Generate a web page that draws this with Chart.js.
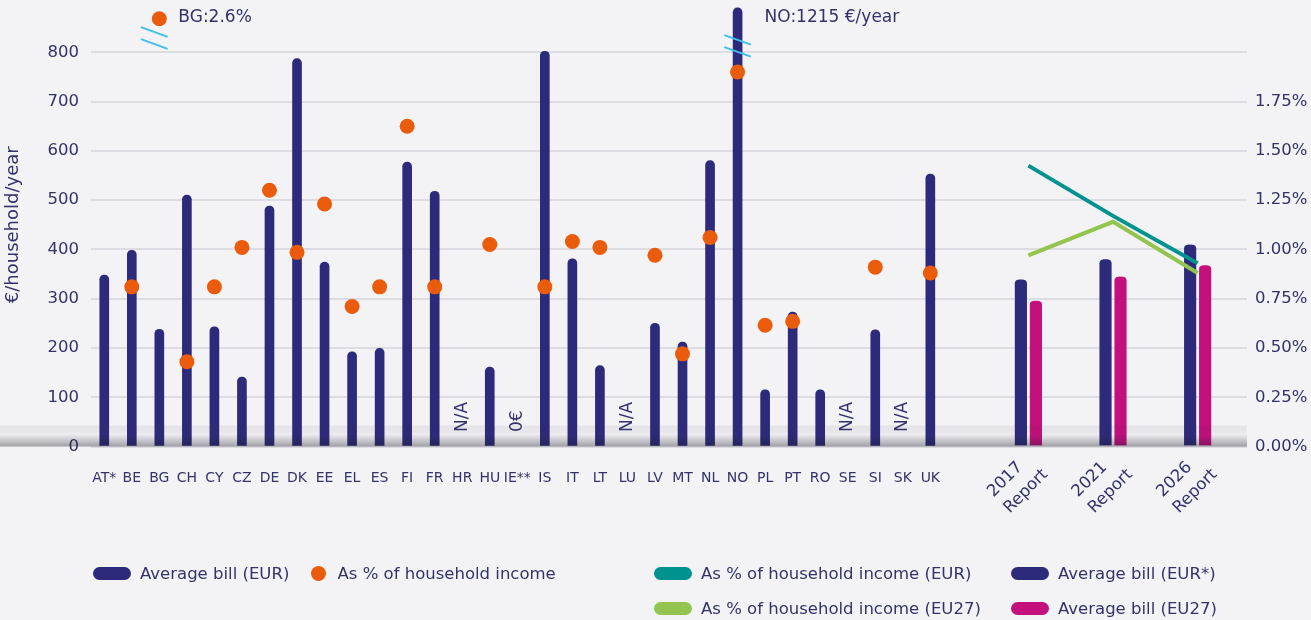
<!DOCTYPE html>
<html>
<head>
<meta charset="utf-8">
<script src="https://cdn.jsdelivr.net/npm/chart.js@4.4.1/dist/chart.umd.min.js"></script>
<style>
  html, body { margin: 0; padding: 0; background: #f3f3f6; }
  #wrap { position: relative; width: 1311px; height: 620px; overflow: hidden; }
  #c { position: absolute; left: 0; top: 0; }
  #legend { position: absolute; left: 0; top: 0; width: 1311px; height: 620px; pointer-events: none;
            font-family: "DejaVu Sans", sans-serif; font-size: 16.5px; color: #34326a; }
  .li { position: absolute; display: flex; align-items: center; white-space: nowrap; height: 20px; }
  .pill { display: inline-block; width: 38px; height: 13px; border-radius: 7px; margin-right: 9px; }
  .dot { display: inline-block; width: 15px; height: 15px; border-radius: 50%; margin-right: 12px; }
</style>
</head>
<body>
<div id="wrap">
  <canvas id="c" width="1311" height="620"></canvas>
  <div id="legend"></div>
</div>
<script>
// ---------------- DATA ----------------
const countries = ['AT*','BE','BG','CH','CY','CZ','DE','DK','EE','EL','ES','FI','FR','HR','HU','IE**',
  'IS','IT','LT','LU','LV','MT','NL','NO','PL','PT','RO','SE','SI','SK','UK'];
// Average bill, €/household/year (null = N/A)
const avgBill = [348, 398, 238, 510, 243, 141, 488, 787, 374, 192, 199, 577, 518, null, 161, 0,
  802, 381, 164, null, 250, 212, 580, 1215, 115, 273, 115, null, 237, null, 553];
// Bill as % of household income
const pctIncome = [null, 0.81, 2.6, 0.43, 0.81, 1.01, 1.30, 0.985, 1.23, 0.71, 0.81, 1.625, 0.81, null, 1.025, null,
  0.81, 1.04, 1.01, null, 0.97, 0.47, 1.06, 1.90, 0.615, 0.635, null, null, 0.91, null, 0.88];

const reports = ['2017 Report', '2021 Report', '2026 Report'];
const reportBillEUR = [339, 380, 410];      // Average bill (EUR*)
const reportBillEU27 = [296, 345, 368];     // Average bill (EU27)
const reportPctEUR = [1.425, 1.17, 0.93];   // As % of household income (EUR)
const reportPctEU27 = [0.97, 1.14, 0.88];   // As % of household income (EU27)

const billTicksMax = 800;     // highest labelled tick, left axis
const pctTicksMax = 1.75;     // highest labelled tick, right axis
const billBreak = 890;        // values above the axis break are drawn at this height
const pctBreak = 2.17;

// ---------------- STYLE ----------------
const NAVY = '#2e2a7b', PINK = '#c4107d', ORANGE = '#ea5b0c', TEAL = '#00928f', GREEN = '#93c44f';
const TEXT = '#34326a', GRID = '#dcdce2', BREAK = '#3dbfe9';
const FONT = 'DejaVu Sans';
Chart.defaults.font.family = FONT;
Chart.defaults.color = TEXT;

// ---------------- BUILD ----------------
const xLabels = countries.concat(Array(42 - countries.length).fill(''));
const x2Labels = Array(82).fill('');
const reportSlot = i => 66 + 6 * i;
reports.forEach((r, i) => { x2Labels[reportSlot(i)] = r; });

// bars of 0 have no height; values beyond the axis break are drawn at the break
const billPlot = avgBill.map(v => (v === null || v === 0) ? null : Math.min(v, billBreak));
const pctPlot = pctIncome.map(v => v === null ? null : Math.min(v, pctBreak));
const padReport = arr => { const a = Array(x2Labels.length).fill(null); arr.forEach((v, i) => { a[reportSlot(i)] = v; }); return a; };
const toReport = arr => arr.map((v, i) => ({ x: reports[i], y: v }));

const noPad = s => { s.paddingTop = 0; s.paddingBottom = 0; s.paddingLeft = 0; s.paddingRight = 0; };

const overlay = {
  id: 'overlay',
  afterDatasetsDraw(chart) {
    const { ctx, scales } = chart;
    const x = scales.x, x2 = scales.x2, y = scales.y;
    const ca = chart.chartArea;
    const y0 = y.getPixelForValue(0);
    // soft shadow band at the foot of the bars
    ctx.save();
    const g = ctx.createLinearGradient(0, y0 - 21, 0, y0);
    g.addColorStop(0, 'rgba(40,40,60,0.07)');
    g.addColorStop(0.32, 'rgba(40,40,60,0.05)');
    g.addColorStop(0.4, 'rgba(40,40,60,0.02)');
    g.addColorStop(1, 'rgba(20,20,30,0.38)');
    ctx.fillStyle = g;
    ctx.fillRect(0, y0 - 21, ca.right, 21);
    ctx.restore();

    // N/A and 0€ markers
    ctx.save();
    ctx.fillStyle = TEXT;
    ctx.font = '17px "' + FONT + '"';
    ctx.textAlign = 'left';
    ctx.textBaseline = 'middle';
    avgBill.forEach((v, i) => {
      let t = null;
      if (v === null) t = 'N/A'; else if (v === 0) t = '0€';
      if (!t) return;
      ctx.save();
      ctx.translate(x.getPixelForValue(i), y0 - 14.5);
      ctx.rotate(-Math.PI / 2);
      ctx.fillText(t, 0, 0);
      ctx.restore();
    });
    ctx.restore();

    // axis breaks and their true values
    const drawBreak = (cx, cy) => {
      ctx.save();
      ctx.strokeStyle = BREAK;
      ctx.lineWidth = 1.8;
      [-6, 6].forEach(d => {
        ctx.beginPath();
        ctx.moveTo(cx - 13.3, cy + d - 4.8);
        ctx.lineTo(cx + 13.3, cy + d + 4.8);
        ctx.stroke();
      });
      ctx.restore();
    };
    ctx.save();
    ctx.fillStyle = TEXT;
    ctx.font = '17px "' + FONT + '"';
    ctx.textBaseline = 'middle';
    ctx.textAlign = 'left';
    avgBill.forEach((v, i) => {
      if (v !== null && v > billBreak) {
        const cx = x.getPixelForValue(i);
        drawBreak(cx, y.getPixelForValue(813));
        ctx.fillText(countries[i] + ':' + v + ' €/year', cx + 27, ca.top + 15);
      }
    });
    pctIncome.forEach((v, i) => {
      if (v !== null && v > pctBreak) {
        const cx = x.getPixelForValue(i);
        drawBreak(cx - 5, y.getPixelForValue(829));
        ctx.fillText(countries[i] + ':' + v + '%', cx + 19, ca.top + 15);
      }
    });
    ctx.restore();

    // rotated report labels on the hidden second category axis
    ctx.save();
    ctx.fillStyle = TEXT;
    ctx.font = '16.5px "' + FONT + '"';
    ctx.textAlign = 'left';
    ctx.textBaseline = 'alphabetic';
    reports.forEach(r => {
      const cx = x2.getPixelForValue(x2Labels.indexOf(r));
      ctx.save();
      ctx.translate(cx - 35, y0 + 51);
      ctx.rotate(-Math.PI / 4);
      r.split(' ').forEach((line, k) => ctx.fillText(line, 0, k * 23));
      ctx.restore();
    });
    ctx.restore();
  }
};

const tickFont = { size: 16.5, family: FONT };
const reportBarStyle = {
  barThickness: 15, borderWidth: { left: 1.75, right: 1.75, top: 0, bottom: 0 },
  borderColor: 'rgba(0,0,0,0)', borderRadius: 6, skipNull: true, order: 2
};

const chart = new Chart(document.getElementById('c'), {
  type: 'bar',
  data: {
    datasets: [
      { label: 'Average bill (EUR)', type: 'bar', data: billPlot, xAxisID: 'x', yAxisID: 'y',
        backgroundColor: NAVY, barThickness: 9, borderRadius: 5, grouped: false, order: 3 },
      { label: 'As % of household income', type: 'line', data: pctPlot, xAxisID: 'x', yAxisID: 'y2',
        showLine: false, pointRadius: 7.5, pointHoverRadius: 7.5, pointBackgroundColor: ORANGE,
        backgroundColor: ORANGE, pointBorderWidth: 0, borderColor: ORANGE, order: 0 },
      { label: 'As % of household income (EUR)', type: 'line', data: toReport(reportPctEUR), xAxisID: 'x2', yAxisID: 'y2',
        borderColor: TEAL, backgroundColor: TEAL, borderWidth: 4, pointRadius: 0, tension: 0, order: 1 },
      Object.assign({ label: 'Average bill (EUR*)', type: 'bar', data: padReport(reportBillEUR), xAxisID: 'x2', yAxisID: 'y',
        backgroundColor: NAVY }, reportBarStyle),
      { label: 'As % of household income (EU27)', type: 'line', data: toReport(reportPctEU27), xAxisID: 'x2', yAxisID: 'y2',
        borderColor: GREEN, backgroundColor: GREEN, borderWidth: 4, pointRadius: 0, tension: 0, order: 1 },
      Object.assign({ label: 'Average bill (EU27)', type: 'bar', data: padReport(reportBillEU27), xAxisID: 'x2', yAxisID: 'y',
        backgroundColor: PINK }, reportBarStyle)
    ]
  },
  options: {
    responsive: false,
    animation: false,
    devicePixelRatio: 1,
    layout: { autoPadding: false, padding: { top: 3, left: 0, right: 0, bottom: 0 } },
    plugins: { legend: { display: false }, tooltip: { enabled: false } },
    scales: {
      x: {
        type: 'category', labels: xLabels, position: 'bottom', offset: true,
        grid: { display: false, drawTicks: false }, border: { display: false },
        ticks: { autoSkip: false, maxRotation: 0, minRotation: 0, padding: 23, font: { size: 14, family: FONT }, color: TEXT },
        afterFit(s) { s.height = 173.5; noPad(s); }
      },
      x2: {
        type: 'category', labels: x2Labels, position: 'bottom', offset: true, display: false
      },
      y: {
        position: 'left', min: 0, max: 900,
        ticks: { stepSize: 100, padding: 11.5, font: tickFont, color: TEXT },
        grid: { color: GRID, lineWidth: 2, drawTicks: false }, border: { display: false },
        title: { display: true, text: '€/household/year', font: { size: 18, family: FONT }, color: TEXT, padding: { top: 3, bottom: 4 } },
        afterBuildTicks(s) { s.ticks = s.ticks.filter(t => t.value <= billTicksMax); },
        afterFit(s) { s.width = 90.5; noPad(s); }
      },
      y2: {
        position: 'right', min: 0, max: 2.25,
        ticks: { stepSize: 0.25, padding: 8, font: tickFont, color: TEXT, callback: v => v.toFixed(2) + '%' },
        grid: { display: false, drawTicks: false }, border: { display: false },
        afterBuildTicks(s) { s.ticks = s.ticks.filter(t => t.value <= pctTicksMax + 1e-9); },
        afterFit(s) { s.width = 64; noPad(s); }
      }
    }
  },
  plugins: [overlay]
});

// ---------------- HTML LEGEND (from the chart's datasets) ----------------
const legendSpots = [
  { left: 93, top: 573 }, { left: 310.5, top: 573 }, { left: 654, top: 573 },
  { left: 1011, top: 573 }, { left: 654, top: 608 }, { left: 1011, top: 608 }
];
const legendEl = document.getElementById('legend');
chart.data.datasets.forEach((ds, i) => {
  const spot = legendSpots[i];
  const item = document.createElement('div');
  item.className = 'li';
  item.style.left = spot.left + 'px';
  item.style.top = (spot.top - 10) + 'px';
  const sw = document.createElement('span');
  const isDot = ds.type === 'line' && ds.showLine === false;
  sw.className = isDot ? 'dot' : 'pill';
  sw.style.background = ds.type === 'line' ? (isDot ? ds.pointBackgroundColor : ds.borderColor) : ds.backgroundColor;
  const tx = document.createElement('span');
  tx.textContent = ds.label;
  item.appendChild(sw);
  item.appendChild(tx);
  legendEl.appendChild(item);
});
</script>
</body>
</html>
